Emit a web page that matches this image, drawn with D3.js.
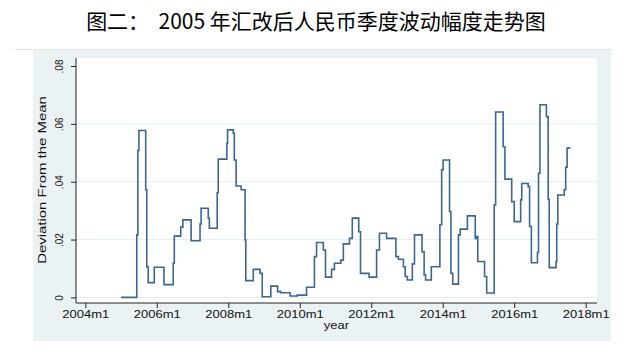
<!DOCTYPE html>
<html><head><meta charset="utf-8">
<script src="https://cdn.jsdelivr.net/npm/d3@7"></script>
<style>body{margin:0;background:#fff;} svg{display:block;}</style>
</head><body>
<svg id="c" width="625" height="359"></svg>
<script>
// Step change points (decimal year) and value from then on
const dates = [2005.00,2005.44,2005.47,2005.50,2005.69,2005.72,2005.76,2005.93,2006.20,2006.46,2006.49,2006.67,2006.73,2006.96,2007.21,2007.24,2007.44,2007.47,2007.69,2007.72,2007.96,2007.98,2008.14,2008.17,2008.22,2008.36,2008.47,2008.49,2008.70,2008.89,2008.95,2009.19,2009.38,2009.47,2009.73,2009.93,2010.19,2010.41,2010.47,2010.66,2010.72,2010.89,2010.97,2011.15,2011.22,2011.39,2011.47,2011.65,2011.70,2011.94,2012.15,2012.23,2012.43,2012.69,2012.76,2012.90,2012.95,2013.01,2013.15,2013.21,2013.42,2013.48,2013.52,2013.68,2013.92,2013.97,2014.01,2014.19,2014.23,2014.28,2014.44,2014.49,2014.69,2014.91,2014.94,2014.98,2015.17,2015.23,2015.44,2015.48,2015.69,2015.74,2015.93,2016.00,2016.18,2016.21,2016.39,2016.43,2016.48,2016.65,2016.68,2016.72,2016.90,2016.95,2016.98,2017.17,2017.19,2017.22,2017.40,2017.44,2017.48];
const values = [0,.0216,.0508,.0577,.0372,.0106,.0051,.0104,.0044,.0118,.0212,.0243,.0268,.0196,.0254,.0308,.0274,.0239,.0362,.0478,.0533,.0579,.0568,.0475,.0385,.0372,.0199,.0058,.0097,.0083,.0002,.0039,.0020,.0016,.0005,.0008,.0035,.0141,.0190,.0164,.0070,.0097,.0118,.0129,.0185,.0204,.0274,.0227,.0083,.0070,.0164,.0222,.0204,.0141,.0132,.0106,.0072,.0060,.0116,.0216,.0158,.0078,.0060,.0106,.0251,.0441,.0475,.0297,.0083,.0046,.0216,.0236,.0282,.0204,.0210,.0124,.0072,.0015,.0320,.0641,.0521,.0409,.0331,.0262,.0337,.0394,.0383,.0245,.0120,.0155,.0429,.0666,.0625,.0339,.0103,.0124,.0254,.0354,.0372,.0450,.0516];
const endDate = 2017.57;
const yTicks = [0, .02, .04, .06, .08];
const yTickLabels = ["0", ".02", ".04", ".06", ".08"];
const xTicks = [2004, 2006, 2008, 2010, 2012, 2014, 2016, 2018];
const xTickLabels = ["2004m1","2006m1","2008m1","2010m1","2012m1","2014m1","2016m1","2018m1"];
const titleText = "图二：  2005 年汇改后人民币季度波动幅度走势图";
const yTitle = "Deviation From the Mean";
const xTitle = "year";

const svg = d3.select("#c");
const plot = {l:76, r:597, t:58, b:303};
const x = d3.scaleLinear().domain([2004, 2018]).range([85.3, 585.7]);
const y = d3.scaleLinear().domain([0, .08]).range([297.4, 66]);

// title
svg.append("text").attr("x", 316).attr("y", 29).attr("text-anchor","middle")
  .attr("font-family","'Noto Sans CJK SC'").attr("font-size", 21).attr("fill","#000")
  .style("white-space","pre").text(titleText);

// panel background
svg.append("rect").attr("x",33).attr("y",50).attr("width",578).attr("height",291).attr("fill","#eaf2f3");
svg.append("line").attr("x1",15).attr("x2",612).attr("y1",49.5).attr("y2",49.5).attr("stroke","#e4e4e4");
svg.append("rect").attr("x",plot.l).attr("y",plot.t).attr("width",plot.r-plot.l).attr("height",plot.b-plot.t).attr("fill","#fff");

// grid
svg.append("g").selectAll("line").data(yTicks.slice(0,4)).join("line")
  .attr("x1",plot.l).attr("x2",plot.r).attr("y1",d=>y(d)).attr("y2",d=>y(d))
  .attr("stroke","#e6eef0").attr("stroke-width",1);

// series
const pts = dates.map((d,i)=>[d, values[i]]);
pts.push([endDate, values[values.length-1]]);
const line = d3.line().x(d=>x(d[0])).y(d=>y(d[1])).curve(d3.curveStepAfter);
svg.append("path").attr("d", line(pts)).attr("fill","none").attr("stroke","#3d6690").attr("stroke-width",1.6);

// axes
const font = "'Liberation Sans', Arial, sans-serif";
const ya = svg.append("g").attr("transform",`translate(${plot.l},0)`)
  .call(d3.axisLeft(y).tickValues(yTicks).tickSize(5).tickFormat((d,i)=>yTickLabels[i]));
ya.select(".domain").attr("d", `M0,${plot.t}V${plot.b}`).attr("stroke","#222");
ya.selectAll(".tick line").attr("stroke","#222");
ya.selectAll(".tick text").attr("font-family",font).attr("font-size",10).attr("fill","#111")
  .attr("text-anchor","middle").attr("x",0).attr("dy",0)
  .attr("transform","translate(-13,0) rotate(-90)");

const xa = svg.append("g").attr("transform",`translate(0,${plot.b})`)
  .call(d3.axisBottom(x).tickValues(xTicks).tickSize(5).tickFormat((d,i)=>xTickLabels[i]));
xa.select(".domain").attr("d", `M${plot.l},0H${plot.r}`).attr("stroke","#222");
xa.selectAll(".tick line").attr("stroke","#222");
xa.selectAll(".tick text").attr("font-family",font).attr("font-size",10).attr("fill","#111")
  .attr("y",0).attr("dy",0).attr("transform","translate(0,15) scale(1.3,1)");

svg.append("text").attr("transform","translate(336.5,329) scale(1.3,1)").attr("text-anchor","middle")
  .attr("font-family",font).attr("font-size",10).attr("fill","#111").text(xTitle);
svg.append("text").attr("transform","translate(46,180) rotate(-90) scale(1.3,1)").attr("text-anchor","middle")
  .attr("font-family",font).attr("font-size",11.5).attr("fill","#111").text(yTitle);
</script>
</body></html>
